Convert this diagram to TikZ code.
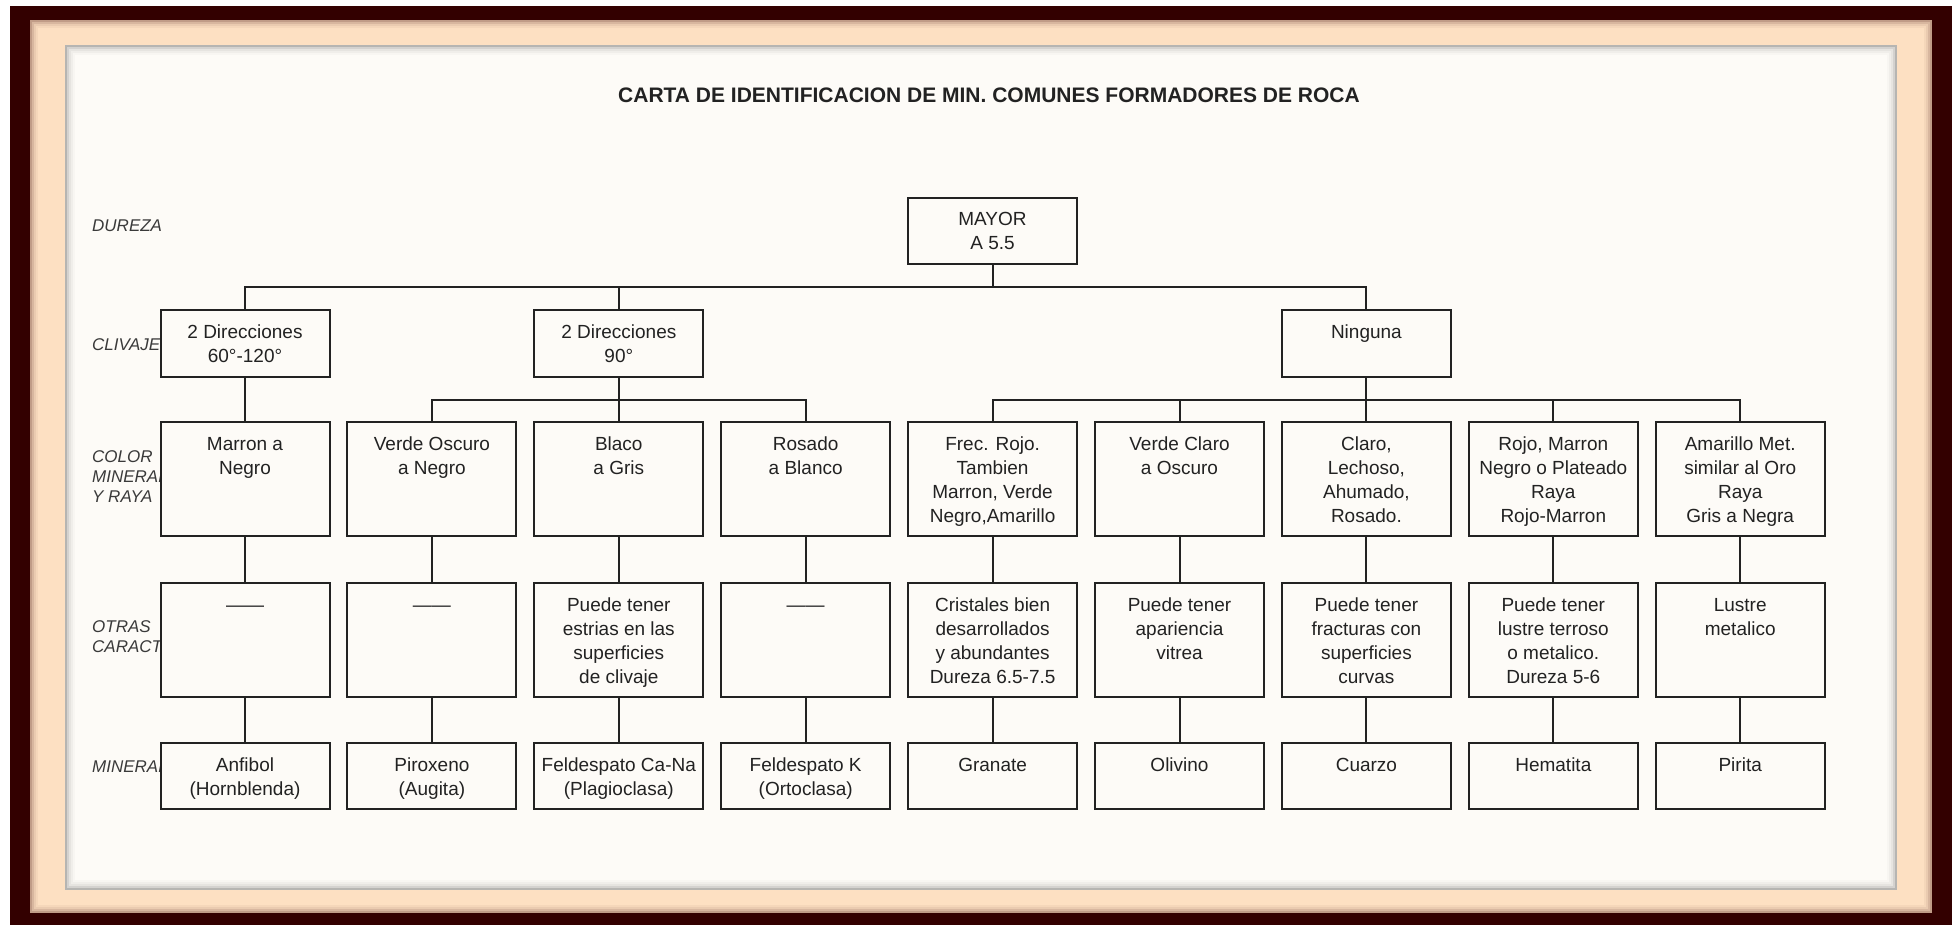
\documentclass[tikz,border=0pt]{standalone}
\usepackage{fontspec}
\setmainfont{Liberation Sans}
\usetikzlibrary{calc}

\definecolor{framedark}{HTML}{330000}
\definecolor{framepeach}{HTML}{FDE0C2}
\definecolor{paper}{HTML}{FDFBF7}
\definecolor{ink}{HTML}{222222}
\definecolor{labelink}{HTML}{3A3A3A}

% box contents: fixed height, text hung from the top edge
\newcommand{\cellbox}[2]{\parbox[c][#1][t]{169pt}{\centering\rule{0pt}{28pt}#2}}

\tikzset{
  cell/.style={draw=ink, line width=2pt, fill=paper, inner sep=0pt, outer sep=0pt,
    text=ink, font=\fontsize{19}{24}\selectfont},
  rowlabel/.style={font=\fontsize{17}{20}\selectfont\itshape, text=labelink,
    align=left, anchor=west, inner sep=0pt},
  link/.style={draw=ink, line width=2pt, line join=miter},
}

\begin{document}
\begin{tikzpicture}[x=1pt, y=-1pt]
\useasboundingbox (0,0) rectangle (1957,925);

% frame
\fill[white] (0,0) rectangle (1957,925);
\fill[framedark] (10,6) rectangle (1952,925);
\fill[framepeach] (30,20) rectangle (1932,913);
\foreach \i/\o in {0/0.30,2/0.18,4/0.09,6/0.04}
  \draw[framedark, opacity=\o, line width=2pt] (31+\i,21+\i) rectangle (1931-\i,912-\i);
\fill[paper] (65,45) rectangle (1897,890);
\foreach \i/\o in {1/0.28,3/0.16,5/0.09,7/0.05,9/0.02}
  \draw[black, opacity=\o, line width=2pt] (65+\i,45+\i) rectangle (1897-\i,890-\i);

% title
\node[font=\fontsize{21}{24}\selectfont\bfseries, text=ink, inner sep=0pt] (title) at (989,95)
  {CARTA  DE IDENTIFICACION DE MIN. COMUNES FORMADORES DE ROCA};

% row labels
\node[rowlabel] (lbdur) at (92,226) {DUREZA};
\node[rowlabel] (lbcli) at (92,345) {CLIVAJE};
\node[rowlabel] (lbcol) at (92,477) {COLOR\\MINERAL\\Y RAYA};
\node[rowlabel] (lbotr) at (92,637) {OTRAS\\CARACT};
\node[rowlabel] (lbmin) at (92,767) {MINERAL};

% hardness
\node[cell] (mayor) at (992.5,231) {\cellbox{66pt}{MAYOR\\A 5.5}};

% cleavage
\node[cell] (cl0) at (245.0,343.5) {\cellbox{67pt}{2 Direcciones\\60°-120°}};
\node[cell] (cl2) at (618.8,343.5) {\cellbox{67pt}{2 Direcciones\\90°}};
\node[cell] (cl6) at (1366.4,343.5) {\cellbox{67pt}{Ninguna}};

% colour and streak
\node[cell] (co0) at (245.0,479) {\cellbox{114pt}{Marron a\\Negro}};
\node[cell] (co1) at (431.9,479) {\cellbox{114pt}{Verde Oscuro\\a Negro}};
\node[cell] (co2) at (618.8,479) {\cellbox{114pt}{Blaco\\a Gris}};
\node[cell] (co3) at (805.7,479) {\cellbox{114pt}{Rosado\\a Blanco}};
\node[cell] (co4) at (992.6,479) {\cellbox{114pt}{Frec. Rojo.\\Tambien\\Marron, Verde\\Negro,Amarillo}};
\node[cell] (co5) at (1179.5,479) {\cellbox{114pt}{Verde Claro\\a Oscuro}};
\node[cell] (co6) at (1366.4,479) {\cellbox{114pt}{Claro,\\Lechoso,\\Ahumado,\\Rosado.}};
\node[cell] (co7) at (1553.3,479) {\cellbox{114pt}{Rojo, Marron\\Negro o Plateado\\Raya\\Rojo-Marron}};
\node[cell] (co8) at (1740.2,479) {\cellbox{114pt}{Amarillo Met.\\similar al Oro\\Raya\\Gris a Negra}};

% other features
\node[cell] (ot0) at (245.0,640) {\cellbox{114pt}{——}};
\node[cell] (ot1) at (431.9,640) {\cellbox{114pt}{——}};
\node[cell] (ot2) at (618.8,640) {\cellbox{114pt}{Puede tener\\estrias en las\\superficies\\de clivaje}};
\node[cell] (ot3) at (805.7,640) {\cellbox{114pt}{——}};
\node[cell] (ot4) at (992.6,640) {\cellbox{114pt}{Cristales bien\\desarrollados\\y abundantes\\Dureza 6.5-7.5}};
\node[cell] (ot5) at (1179.5,640) {\cellbox{114pt}{Puede tener\\apariencia\\vitrea}};
\node[cell] (ot6) at (1366.4,640) {\cellbox{114pt}{Puede tener\\fracturas con\\superficies\\curvas}};
\node[cell] (ot7) at (1553.3,640) {\cellbox{114pt}{Puede tener\\lustre terroso\\o metalico.\\Dureza 5-6}};
\node[cell] (ot8) at (1740.2,640) {\cellbox{114pt}{Lustre\\metalico}};

% minerals
\node[cell] (mi0) at (245.0,776) {\cellbox{66pt}{Anfibol\\(Hornblenda)}};
\node[cell] (mi1) at (431.9,776) {\cellbox{66pt}{Piroxeno\\(Augita)}};
\node[cell] (mi2) at (618.8,776) {\cellbox{66pt}{Feldespato Ca-Na\\(Plagioclasa)}};
\node[cell] (mi3) at (805.7,776) {\cellbox{66pt}{Feldespato K\\(Ortoclasa)}};
\node[cell] (mi4) at (992.6,776) {\cellbox{66pt}{Granate}};
\node[cell] (mi5) at (1179.5,776) {\cellbox{66pt}{Olivino}};
\node[cell] (mi6) at (1366.4,776) {\cellbox{66pt}{Cuarzo}};
\node[cell] (mi7) at (1553.3,776) {\cellbox{66pt}{Hematita}};
\node[cell] (mi8) at (1740.2,776) {\cellbox{66pt}{Pirita}};

% bus lines
\coordinate (bus1) at (992.5,287);
\coordinate (bus2) at (618.8,400);
\coordinate (bus3) at (1366.4,400);

\draw[link] (mayor.south) -- (mayor.south |- bus1);
\draw[link] (cl0.north) -- (cl0.north |- bus1) -- (cl6.north |- bus1) -- (cl6.north);
\draw[link] (cl2.north) -- (cl2.north |- bus1);

\draw[link] (cl0.south) -- (co0.north);
\draw[link] (cl2.south) -- (cl2.south |- bus2);
\draw[link] (co1.north) -- (co1.north |- bus2) -- (co3.north |- bus2) -- (co3.north);
\draw[link] (co2.north) -- (co2.north |- bus2);

\draw[link] (cl6.south) -- (cl6.south |- bus3);
\draw[link] (co4.north) -- (co4.north |- bus3) -- (co8.north |- bus3) -- (co8.north);
\foreach \k in {5,6,7}
  \draw[link] (co\k.north) -- (co\k.north |- bus3);

\foreach \k in {0,...,8} {
  \draw[link] (co\k.south) -- (ot\k.north);
  \draw[link] (ot\k.south) -- (mi\k.north);
}
\end{tikzpicture}
\end{document}
